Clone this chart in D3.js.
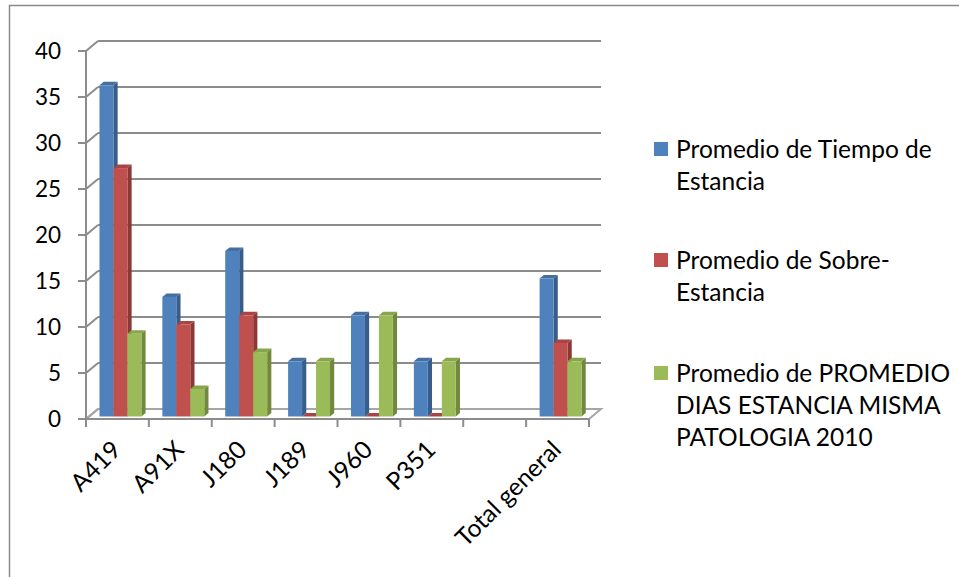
<!DOCTYPE html>
<html>
<head>
<meta charset="utf-8">
<script src="https://cdn.jsdelivr.net/npm/d3@7"></script>
<style>
  html, body { margin: 0; padding: 0; background: #fff; }
  svg { display: block; font-family: Lato, "Open Sans", sans-serif; }
</style>
</head>
<body>
<svg id="chart" width="959" height="577"></svg>
<script>
// Categories on the horizontal axis (blank slot kept as in the pivot table)
const categories = ["A419", "A91X", "J180", "J189", "J960", "P351", "", "Total general"];

// Series names and values
const seriesNames = [
  "Promedio de Tiempo de Estancia",
  "Promedio de Sobre-Estancia",
  "Promedio de PROMEDIO DIAS ESTANCIA MISMA PATOLOGIA 2010"
];
const tiempoEstancia = [36, 13, 18, 6, 11, 6, null, 15];
const sobreEstancia = [27, 10, 11, 0, 0, 0, null, 8];
const promedioPatologia = [9, 3, 7, 6, 11, 6, null, 6];

// Legend lines (wrapped as shown)
const legendLines = [
  ["Promedio de Tiempo de", "Estancia"],
  ["Promedio de Sobre-", "Estancia"],
  ["Promedio de PROMEDIO", "DIAS ESTANCIA MISMA", "PATOLOGIA 2010"]
];

const yTicks = [0, 5, 10, 15, 20, 25, 30, 35, 40];

const colors = [
  { front: "#4F81BD", side: "#385D8A", top: "#44709F" },
  { front: "#C0504D", side: "#8C3836", top: "#A64543" },
  { front: "#9BBB59", side: "#71893F", top: "#88A44D" }
];

const seriesValues = [tiempoEstancia, sobreEstancia, promedioPatologia];

const svg = d3.select("#chart");

// Outer chart border
svg.append("rect")
  .attr("x", 9.5).attr("y", 5.5)
  .attr("width", 980).attr("height", 620)
  .attr("fill", "none").attr("stroke", "#8a8a8a").attr("stroke-width", 1.5);

// Plot geometry with a simple oblique projection for depth
const plot = { left: 86, right: 589, top: 51, bottom: 419 };
const DX = 12, DY = -10;        // full depth offset
const D0 = 0.25, D1 = 0.6;      // bar front / back depth fractions

const x = d3.scaleBand().domain(categories).range([plot.left, plot.right]).padding(0);
const xs = d3.scaleBand().domain(d3.range(seriesNames.length))
  .range([0, x.bandwidth()]).paddingInner(0).paddingOuter(0.75);
const y = d3.scaleLinear().domain([0, 40]).range([plot.bottom, plot.top]);

const grid = svg.append("g").attr("fill", "none").attr("stroke", "#8c8c8c").attr("stroke-width", 2);

// Back-wall gridlines and side-wall diagonals
yTicks.forEach(t => {
  const yy = y(t);
  if (t > 0) {
    grid.append("line")
      .attr("x1", plot.left + DX).attr("y1", yy + DY)
      .attr("x2", plot.right + DX).attr("y2", yy + DY);
  }
  grid.append("line")
    .attr("x1", plot.left).attr("y1", yy)
    .attr("x2", plot.left + DX).attr("y2", yy + DY);
});

// Floor
const floor = svg.append("g").attr("fill", "none").attr("stroke", "#a6a6a6").attr("stroke-width", 2);
floor.append("path").attr("d",
  `M${plot.left},${plot.bottom} L${plot.right},${plot.bottom} L${plot.right + DX},${plot.bottom + DY} L${plot.left + DX},${plot.bottom + DY} Z`);

// Vertical axis (front) with ticks
const axisG = svg.append("g").attr("stroke", "#8c8c8c").attr("stroke-width", 2);
axisG.append("line")
  .attr("x1", plot.left).attr("y1", y(40))
  .attr("x2", plot.left).attr("y2", plot.bottom);
yTicks.forEach(t => {
  axisG.append("line")
    .attr("x1", plot.left - 8).attr("y1", y(t))
    .attr("x2", plot.left).attr("y2", y(t));
});

// Horizontal axis (front edge) with category ticks
axisG.append("line")
  .attr("x1", plot.left).attr("y1", plot.bottom)
  .attr("x2", plot.right).attr("y2", plot.bottom);
const boundaries = categories.map(c => x(c)).concat([plot.right]);
boundaries.forEach(bx => {
  axisG.append("line")
    .attr("x1", bx).attr("y1", plot.bottom)
    .attr("x2", bx).attr("y2", plot.bottom + 8);
});

// Y tick labels
svg.append("g").selectAll("text").data(yTicks).join("text")
  .attr("x", 61).attr("y", d => y(d))
  .attr("dy", "0.35em")
  .attr("text-anchor", "end")
  .attr("font-size", 22.5)
  .attr("fill", "#000")
  .text(d => d);

// Category labels, rotated
svg.append("g").selectAll("text").data(categories).join("text")
  .attr("transform", d => `translate(${x(d) + x.bandwidth() / 2 - 7},${plot.bottom + 20}) rotate(-45)`)
  .attr("dy", "0.7em")
  .attr("text-anchor", "end")
  .attr("font-size", 24.5)
  .attr("fill", "#000")
  .text(d => d);

// 3D bars
const bars = svg.append("g");
categories.forEach((c, ci) => {
  seriesValues.forEach((vals, si) => {
    const v = vals[ci];
    if (v === null || v === undefined) return;
    const x0 = x(c) + xs(si);
    const x1 = x0 + xs.bandwidth();
    const yb = y(0), yt = y(v);
    const fx = D0 * DX, fy = D0 * DY, bx = D1 * DX, by = D1 * DY;
    const col = colors[si];
    const g = bars.append("g");
    // side face
    g.append("path").attr("fill", col.side).attr("d",
      `M${x1 + fx},${yb + fy} L${x1 + bx},${yb + by} L${x1 + bx},${yt + by} L${x1 + fx},${yt + fy} Z`);
    // top face
    g.append("path").attr("fill", col.top).attr("d",
      `M${x0 + fx},${yt + fy} L${x1 + fx},${yt + fy} L${x1 + bx},${yt + by} L${x0 + bx},${yt + by} Z`);
    // front face
    g.append("rect").attr("fill", col.front)
      .attr("x", x0 + fx).attr("y", yt + fy)
      .attr("width", x1 - x0).attr("height", yb - yt);
  });
});

// Legend
const legend = svg.append("g");
const legendTops = [149, 260, 373];
legendLines.forEach((lines, i) => {
  const ly = legendTops[i];
  legend.append("rect")
    .attr("x", 654).attr("y", ly - 7)
    .attr("width", 14).attr("height", 14)
    .attr("fill", colors[i].front);
  lines.forEach((ln, j) => {
    legend.append("text")
      .attr("x", 676).attr("y", ly + j * 32)
      .attr("dy", "0.35em")
      .attr("font-size", 24.5)
      .attr("fill", "#000")
      .text(ln);
  });
});
</script>
</body>
</html>
